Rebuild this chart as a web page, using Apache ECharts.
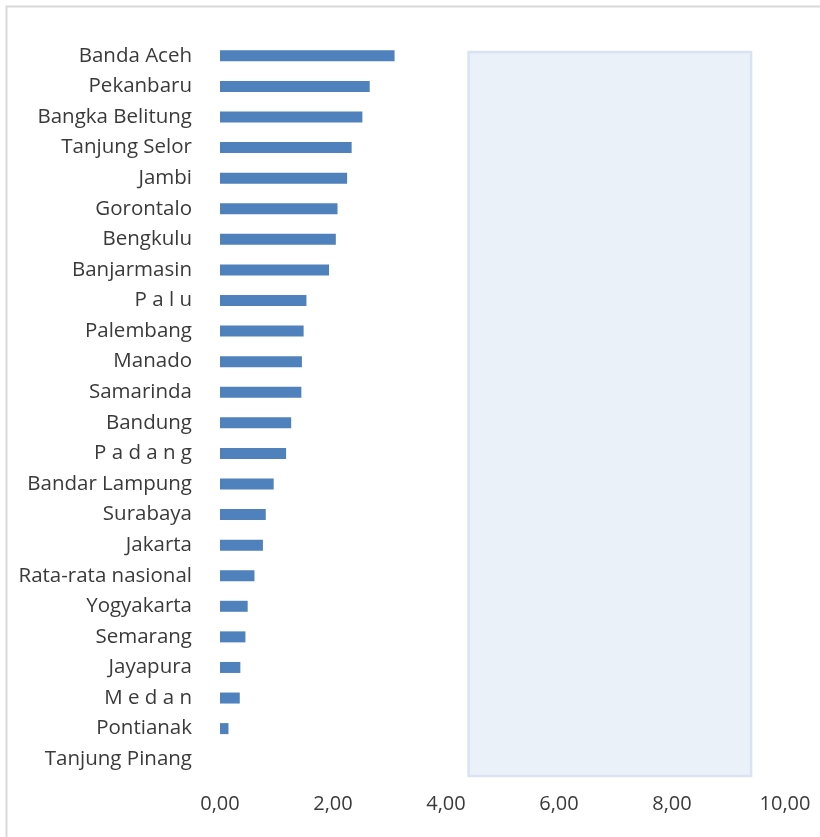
<!DOCTYPE html>
<html>
<head>
<meta charset="utf-8">
<script src="https://cdn.jsdelivr.net/npm/echarts@6/dist/echarts.min.js"></script>
<style>
  html, body { margin: 0; padding: 0; background: #ffffff; }
  #chart { width: 820px; height: 837px; }
</style>
</head>
<body>
<div id="chart"></div>
<script>
// Cities, top to bottom
const cities = [
  'Banda Aceh', 'Pekanbaru', 'Bangka Belitung', 'Tanjung Selor', 'Jambi',
  'Gorontalo', 'Bengkulu', 'Banjarmasin', 'P a l u', 'Palembang',
  'Manado', 'Samarinda', 'Bandung', 'P a d a n g', 'Bandar Lampung',
  'Surabaya', 'Jakarta', 'Rata-rata nasional', 'Yogyakarta', 'Semarang',
  'Jayapura', 'M e d a n', 'Pontianak', 'Tanjung Pinang'
];

// Value per city
const values = [
  3.09, 2.65, 2.52, 2.33, 2.25,
  2.08, 2.05, 1.93, 1.53, 1.48,
  1.45, 1.44, 1.26, 1.17, 0.95,
  0.81, 0.76, 0.61, 0.49, 0.45,
  0.36, 0.35, 0.15, 0.00
];

// Value axis ticks
const axisMin = 0;
const axisMax = 10;
const axisStep = 2;

// Shaded band on the value axis
const bandFrom = 4.4;
const bandTo = 9.4;

const fmt = v => v.toFixed(2).replace('.', ',');

const chart = echarts.init(document.getElementById('chart'), null, { renderer: 'canvas' });

chart.setOption({
  animation: false,
  backgroundColor: '#ffffff',
  textStyle: { fontFamily: 'Open Sans' },
  graphic: [
    {
      type: 'rect',
      left: 4, top: 4,
      shape: { width: 900, height: 900 },
      style: { fill: 'none', stroke: '#d9d9d9', lineWidth: 2 },
      silent: true,
      z: 100
    }
  ],
  grid: { left: 220, right: 35, top: 40.5, bottom: 62.5, containLabel: false },
  xAxis: {
    type: 'value',
    min: axisMin,
    max: axisMax,
    interval: axisStep,
    axisLine: { show: false },
    axisTick: { show: false },
    splitLine: { show: false },
    axisLabel: {
      formatter: fmt,
      color: '#3a3a3a',
      fontSize: 20,
      fontFamily: 'Open Sans',
      margin: 20
    }
  },
  yAxis: {
    type: 'category',
    data: cities,
    inverse: true,
    axisLine: { show: false },
    axisTick: { show: false },
    axisLabel: {
      color: '#3a3a3a',
      fontSize: 20.5,
      fontFamily: 'Open Sans',
      margin: 28
    }
  },
  series: [
    {
      type: 'bar',
      data: values,
      barWidth: 11,
      itemStyle: { color: '#4f81bd' },
      markArea: {
        silent: true,
        itemStyle: {
          color: '#eaf1f9',
          borderColor: '#d9e3f2',
          borderWidth: 2.5
        },
        data: [[
          { xAxis: bandFrom, y: 52 },
          { xAxis: bandTo, y: 776 }
        ]]
      }
    }
  ]
});
</script>
</body>
</html>
